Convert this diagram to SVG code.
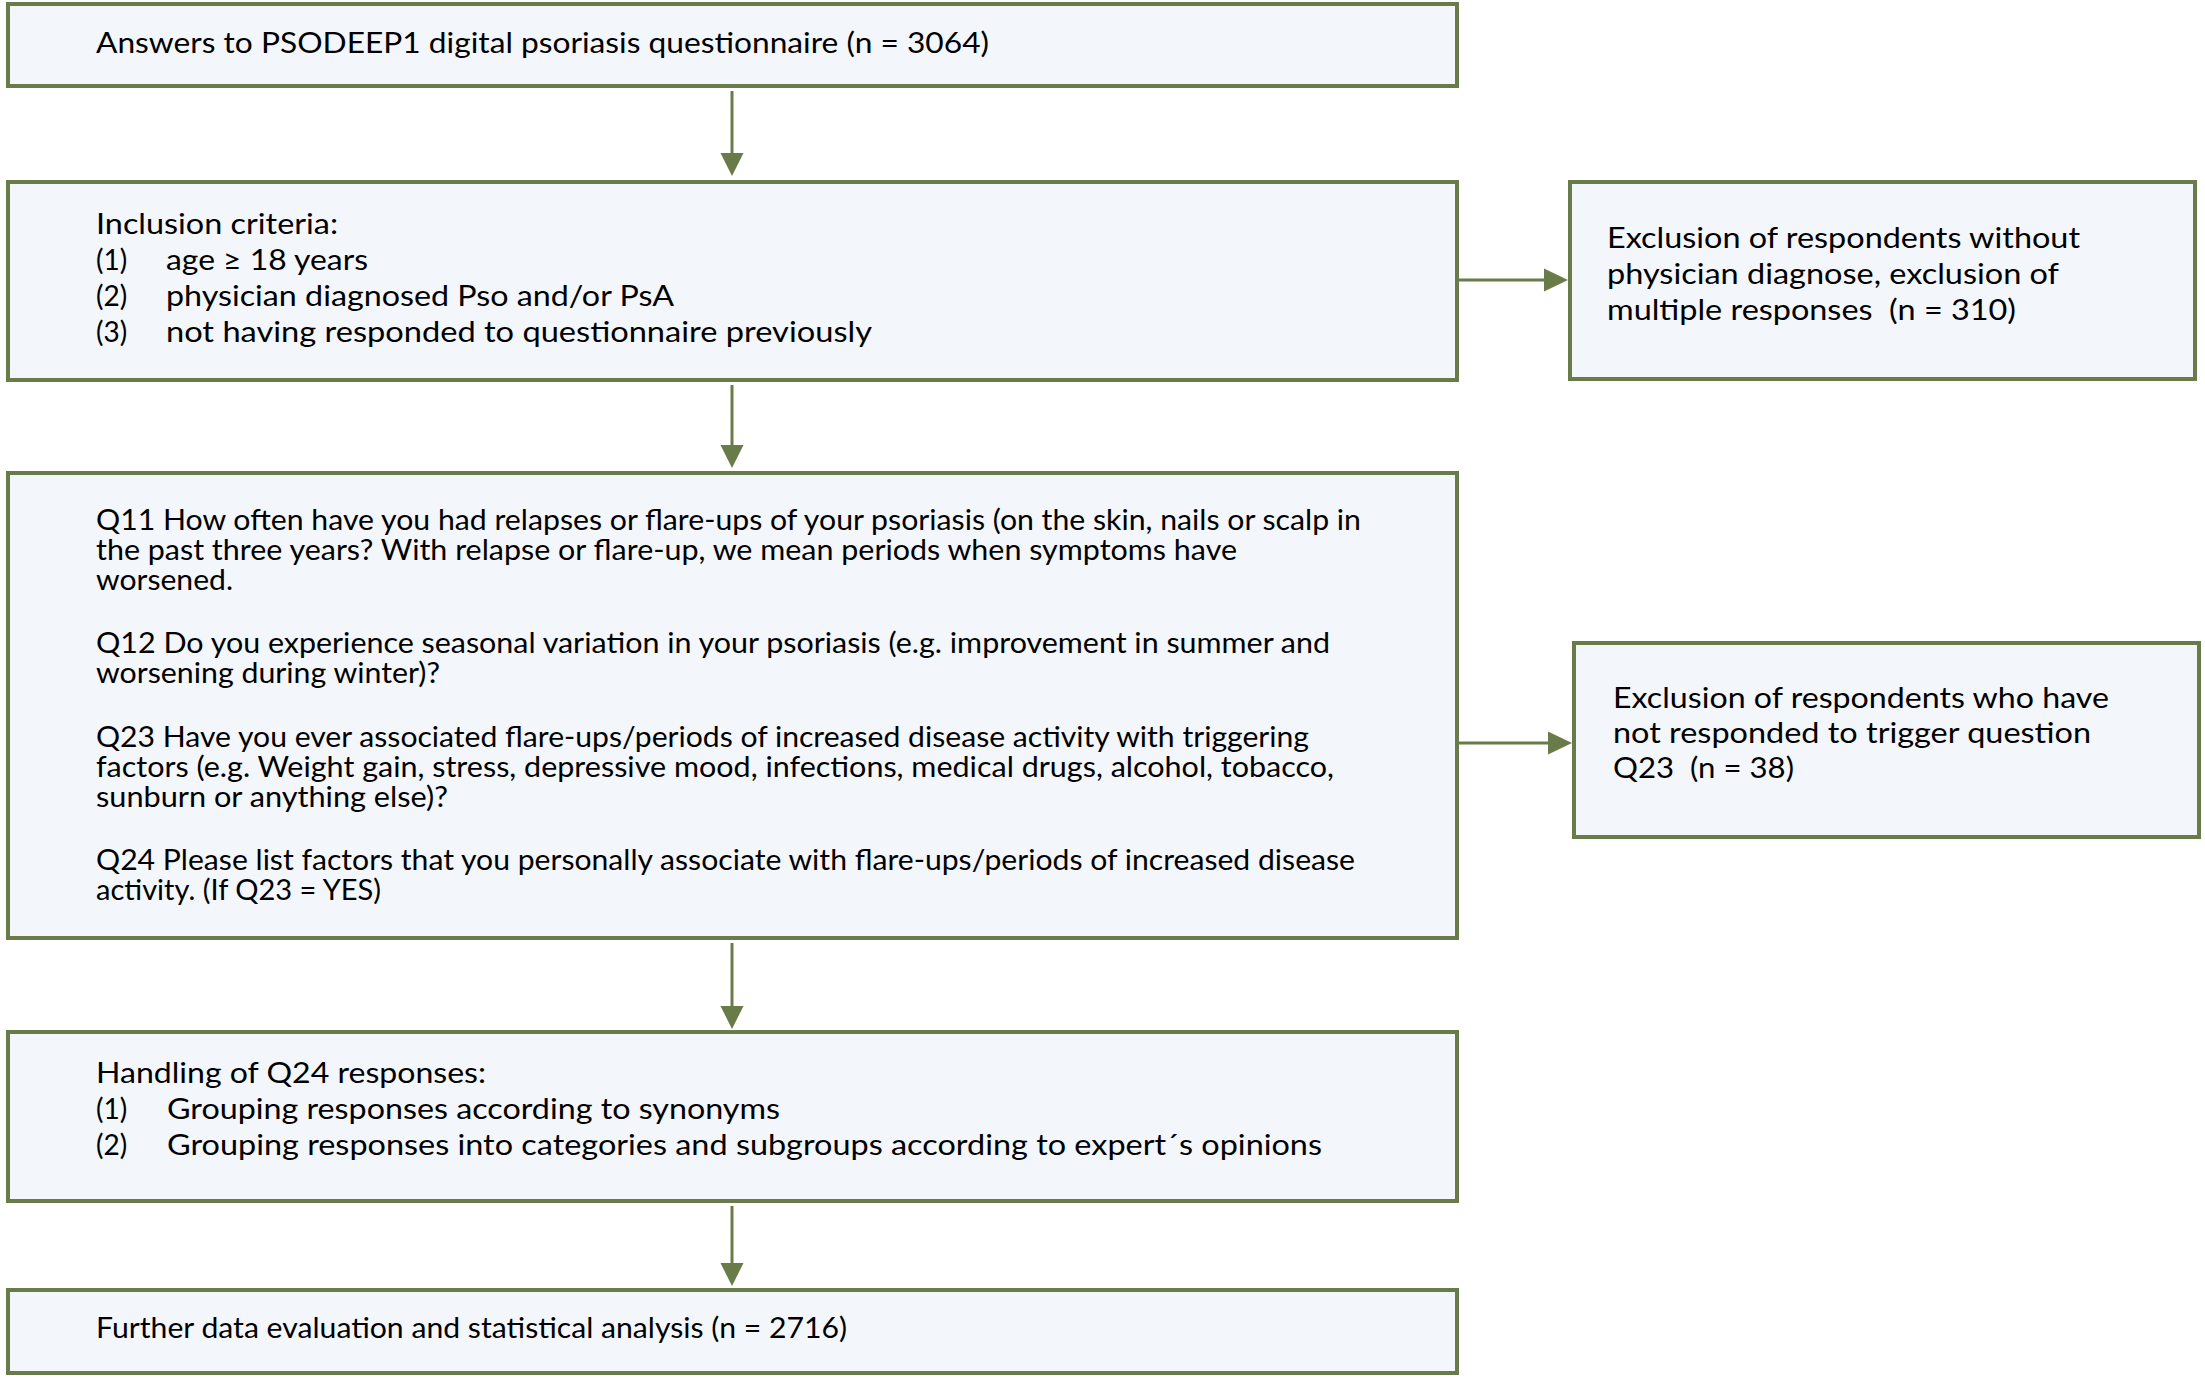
<svg xmlns="http://www.w3.org/2000/svg" width="2205" height="1378" viewBox="0 0 2205 1378">
<style>
.box{fill:#f3f6fb;stroke:#6a7b4a;stroke-width:4}
.t{font-family:Lato,"Liberation Sans",sans-serif;font-size:28px;fill:#000;white-space:pre}
.c{stroke:#6a7b4a;stroke-width:3;fill:none}
.h{fill:#6a7b4a}
</style>
<rect width="2205" height="1378" fill="#fff"/>
<g id="connectors">
<line class="c" x1="732" y1="91" x2="732" y2="160"/>
<path class="h" d="M720.5,153 L743.5,153 L732,176 Z"/>
<line class="c" x1="732" y1="385" x2="732" y2="450"/>
<path class="h" d="M720.5,445 L743.5,445 L732,468 Z"/>
<line class="c" x1="732" y1="943" x2="732" y2="1010"/>
<path class="h" d="M720.5,1006 L743.5,1006 L732,1029 Z"/>
<line class="c" x1="732" y1="1206" x2="732" y2="1268"/>
<path class="h" d="M720.5,1263 L743.5,1263 L732,1286 Z"/>
<line class="c" x1="1459" y1="280" x2="1550" y2="280"/>
<path class="h" d="M1544,268.5 L1544,291.5 L1568,280 Z"/>
<line class="c" x1="1459" y1="743" x2="1552" y2="743"/>
<path class="h" d="M1548,731.5 L1548,754.5 L1572,743 Z"/>
</g>
<g id="n1">
<rect class="box" x="8" y="4" width="1449" height="82"/>
<text class="t" x="96" y="53" textLength="893" lengthAdjust="spacingAndGlyphs">Answers to PSODEEP1 digital psoriasis questionnaire (n = 3064)</text>
</g>
<g id="n2">
<rect class="box" x="8" y="182" width="1449" height="198"/>
<text class="t" x="96" y="234" textLength="242" lengthAdjust="spacingAndGlyphs">Inclusion criteria:</text>
<text class="t" x="96" y="270">(1)</text><text class="t" x="166" y="270" textLength="202" lengthAdjust="spacingAndGlyphs">age ≥ 18 years</text>
<text class="t" x="96" y="306">(2)</text><text class="t" x="166" y="306" textLength="508" lengthAdjust="spacingAndGlyphs">physician diagnosed Pso and/or PsA</text>
<text class="t" x="96" y="342">(3)</text><text class="t" x="166" y="342" textLength="706" lengthAdjust="spacingAndGlyphs">not having responded to questionnaire previously</text>
</g>
<g id="n3">
<rect class="box" x="8" y="473" width="1449" height="465"/>
<text class="t" x="96" y="530" textLength="1265" lengthAdjust="spacingAndGlyphs">Q11 How often have you had relapses or flare-ups of your psoriasis (on the skin, nails or scalp in</text>
<text class="t" x="96" y="560" textLength="1141" lengthAdjust="spacingAndGlyphs">the past three years? With relapse or flare-up, we mean periods when symptoms have</text>
<text class="t" x="96" y="590" textLength="137" lengthAdjust="spacingAndGlyphs">worsened.</text>
<text class="t" x="96" y="653" textLength="1234" lengthAdjust="spacingAndGlyphs">Q12 Do you experience seasonal variation in your psoriasis (e.g. improvement in summer and</text>
<text class="t" x="96" y="683" textLength="344" lengthAdjust="spacingAndGlyphs">worsening during winter)?</text>
<text class="t" x="96" y="747" textLength="1213" lengthAdjust="spacingAndGlyphs">Q23 Have you ever associated flare-ups/periods of increased disease activity with triggering</text>
<text class="t" x="96" y="777" textLength="1238" lengthAdjust="spacingAndGlyphs">factors (e.g. Weight gain, stress, depressive mood, infections, medical drugs, alcohol, tobacco,</text>
<text class="t" x="96" y="807" textLength="352" lengthAdjust="spacingAndGlyphs">sunburn or anything else)?</text>
<text class="t" x="96" y="870" textLength="1259" lengthAdjust="spacingAndGlyphs">Q24 Please list factors that you personally associate with flare-ups/periods of increased disease</text>
<text class="t" x="96" y="900" textLength="285" lengthAdjust="spacingAndGlyphs">activity. (If Q23 = YES)</text>
</g>
<g id="n4">
<rect class="box" x="8" y="1032" width="1449" height="169"/>
<text class="t" x="96" y="1083" textLength="390" lengthAdjust="spacingAndGlyphs">Handling of Q24 responses:</text>
<text class="t" x="96" y="1119">(1)</text><text class="t" x="167" y="1119" textLength="613" lengthAdjust="spacingAndGlyphs">Grouping responses according to synonyms</text>
<text class="t" x="96" y="1155">(2)</text><text class="t" x="167" y="1155" textLength="1155" lengthAdjust="spacingAndGlyphs">Grouping responses into categories and subgroups according to expert´s opinions</text>
</g>
<g id="n5">
<rect class="box" x="8" y="1290" width="1449" height="83"/>
<text class="t" x="96" y="1338" textLength="751" lengthAdjust="spacingAndGlyphs">Further data evaluation and statistical analysis (n = 2716)</text>
</g>
<g id="n6">
<rect class="box" x="1570" y="182" width="625" height="197"/>
<text class="t" x="1607" y="248" textLength="473" lengthAdjust="spacingAndGlyphs">Exclusion of respondents without</text>
<text class="t" x="1607" y="284" textLength="452" lengthAdjust="spacingAndGlyphs">physician diagnose, exclusion of</text>
<text class="t" x="1607" y="320" textLength="409" lengthAdjust="spacingAndGlyphs" xml:space="preserve">multiple responses  (n = 310)</text>
</g>
<g id="n7">
<rect class="box" x="1574" y="643" width="625" height="194"/>
<text class="t" x="1613" y="708" textLength="496" lengthAdjust="spacingAndGlyphs">Exclusion of respondents who have</text>
<text class="t" x="1613" y="743" textLength="478" lengthAdjust="spacingAndGlyphs">not responded to trigger question</text>
<text class="t" x="1613" y="778" textLength="181" lengthAdjust="spacingAndGlyphs" xml:space="preserve">Q23  (n = 38)</text>
</g>
</svg>
